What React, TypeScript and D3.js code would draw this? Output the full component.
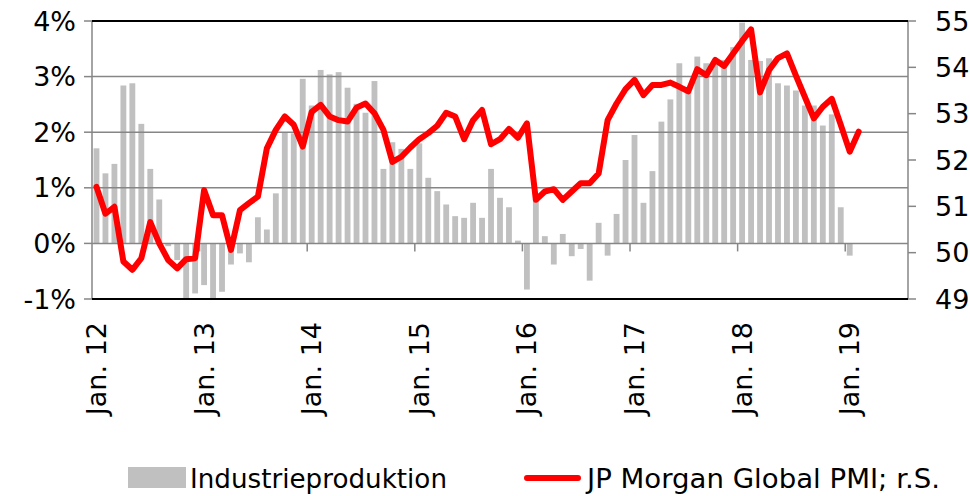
import React from "react";
import * as d3 from "d3";

const startMonth = new Date(2012, 0, 1);
const monthCount = 91; // Jan 2012 – Jul 2019 on the category axis

const yearTicks = ["Jan. 12", "Jan. 13", "Jan. 14", "Jan. 15", "Jan. 16", "Jan. 17", "Jan. 18", "Jan. 19"];
const leftTicks = [-1, 0, 1, 2, 3, 4];
const rightTicks = [49, 50, 51, 52, 53, 54, 55];

// Industrieproduktion (% y/y), Jan 2012 – Jan 2019
const industrie = [
  1.71, 1.26, 1.43, 2.84, 2.88, 2.15, 1.34, 0.79, -0.05, -0.3, -1.05, -0.9,
  -0.75, -1.05, -0.87, -0.38, -0.18, -0.34, 0.47, 0.25, 0.9, 1.99, 1.98, 2.96,
  2.48, 3.12, 3.04, 3.08, 2.8, 2.51, 2.35, 2.92, 1.34, 1.82, 1.7, 1.34,
  1.8, 1.18, 0.94, 0.7, 0.49, 0.46, 0.73, 0.46, 1.34, 0.82, 0.65, 0.05,
  -0.83, 0.8, 0.13, -0.38, 0.17, -0.23, -0.1, -0.67, 0.37, -0.22, 0.53, 1.5,
  1.95, 0.73, 1.3, 2.19, 2.59, 3.24, 2.8, 3.36, 3.24, 3.25, 3.3, 3.53,
  3.97, 3.3, 3.28, 3.33, 2.88, 2.84, 2.75, 2.48, 2.48, 2.12, 2.32, 0.65,
  -0.22,
];

// JP Morgan Global PMI, Jan 2012 – Feb 2019
const pmi = [
  51.42, 50.84, 50.99, 49.81, 49.63, 49.88, 50.66, 50.2, 49.84, 49.66, 49.86, 49.88,
  51.35, 50.81, 50.81, 50.06, 50.92, 51.07, 51.21, 52.25, 52.65, 52.94, 52.76, 52.29,
  53.04, 53.19, 52.94, 52.86, 52.83, 53.13, 53.22, 53.01, 52.65, 51.96, 52.07, 52.27,
  52.45, 52.58, 52.74, 53.02, 52.94, 52.45, 52.86, 53.08, 52.34, 52.45, 52.67, 52.48,
  52.79, 51.14, 51.32, 51.37, 51.14, 51.32, 51.5, 51.5, 51.71, 52.86, 53.22, 53.53,
  53.73, 53.4, 53.62, 53.62, 53.67, 53.58, 53.48, 53.96, 53.83, 54.16, 54.03, 54.3,
  54.57, 54.82, 53.46, 53.94, 54.2, 54.3, 53.82, 53.36, 52.9, 53.15, 53.32, 52.76,
  52.18, 52.61,
];

const legendLabels = ["Industrieproduktion", "JP Morgan Global PMI; r.S."];

const W = 970;
const H = 496;
const M = { left: 92, right: 908, top: 21, bottom: 299 };
const FONT = "'DejaVu Sans', Verdana, sans-serif";

export default function App() {
  const months = d3.timeMonth.range(startMonth, d3.timeMonth.offset(startMonth, monthCount));
  const x = d3
    .scaleBand<number>()
    .domain(d3.range(months.length))
    .range([M.left, M.right])
    .paddingInner(0.35)
    .paddingOuter(0.175);
  const step = x.step();
  const xStart = (i: number) => M.left + i * step;
  const xCenter = (i: number) => xStart(i) + step / 2;

  const yL = d3.scaleLinear().domain([-1, 4]).range([M.bottom, M.top]);
  const yR = d3.scaleLinear().domain([49, 55]).range([M.bottom, M.top]);

  const line = d3
    .line<number>()
    .x((_, i) => xCenter(i))
    .y((d) => yR(d));

  const janIdx = months.map((m, i) => (m.getMonth() === 0 ? i : -1)).filter((i) => i >= 0);

  const clampL = (v: number) => Math.max(-1, Math.min(4, v));

  return (
    <svg
      width={W}
      height={H}
      style={{ position: "absolute", left: 0, top: 0, background: "#fff" }}
      fontFamily={FONT}
    >
      {/* bars */}
      {industrie.map((v, i) => {
        const y0 = yL(0);
        const y1 = yL(clampL(v));
        return (
          <rect
            key={i}
            x={x(i)}
            width={x.bandwidth()}
            y={Math.min(y0, y1)}
            height={Math.abs(y1 - y0)}
            fill="#c0c0c0"
          />
        );
      })}
      {/* gridlines */}
      {[0, 1, 2, 3].map((t) => (
        <line key={t} x1={M.left} x2={M.right} y1={yL(t)} y2={yL(t)} stroke="#868686" strokeWidth={1.5} />
      ))}
      {/* x tick marks at January boundaries */}
      {janIdx.slice(1).map((i) => (
        <line key={i} x1={xStart(i)} x2={xStart(i)} y1={yL(0)} y2={yL(0) + 8} stroke="#868686" strokeWidth={1.5} />
      ))}
      {/* frame */}
      <line x1={M.left} x2={M.left} y1={M.top} y2={M.bottom} stroke="#868686" strokeWidth={1.5} />
      <line x1={M.right} x2={M.right} y1={M.top} y2={M.bottom} stroke="#868686" strokeWidth={1.5} />
      <line x1={M.left} x2={M.right} y1={M.top} y2={M.top} stroke="#000" strokeWidth={2} />
      <line x1={M.left} x2={M.right} y1={M.bottom} y2={M.bottom} stroke="#000" strokeWidth={2} />
      {/* left axis */}
      {leftTicks.map((t) => (
        <g key={t}>
          <line x1={M.left - 8} x2={M.left} y1={yL(t)} y2={yL(t)} stroke="#868686" strokeWidth={1.5} />
          <text x={76} y={yL(t)} textAnchor="end" dominantBaseline="central" fontSize={27} fill="#000">
            {t + "%"}
          </text>
        </g>
      ))}
      {/* right axis */}
      {rightTicks.map((t) => (
        <g key={t}>
          <line x1={M.right} x2={M.right + 8} y1={yR(t)} y2={yR(t)} stroke="#868686" strokeWidth={1.5} />
          <text x={935} y={yR(t)} textAnchor="start" dominantBaseline="central" fontSize={27} fill="#000">
            {t}
          </text>
        </g>
      ))}
      {/* x labels */}
      {janIdx.slice(0, yearTicks.length).map((i, k) => (
        <text
          key={i}
          transform={`translate(${xCenter(i)},322) rotate(-90)`}
          textAnchor="end"
          dominantBaseline="central"
          fontSize={27}
          fill="#000"
        >
          {yearTicks[k]}
        </text>
      ))}
      {/* PMI line */}
      <path d={line(pmi) || ""} fill="none" stroke="#ff0000" strokeWidth={6} strokeLinejoin="round" strokeLinecap="round" />
      {/* legend */}
      <rect x={128} y={467} width={58} height={21} fill="#c0c0c0" />
      <text x={190} y={488} fontSize={26} textLength={257} lengthAdjust="spacingAndGlyphs" fill="#000">
        {legendLabels[0]}
      </text>
      <line x1={527} x2={578} y1={478} y2={478} stroke="#ff0000" strokeWidth={6} strokeLinecap="round" />
      <text x={587} y={488} fontSize={26} textLength={353} lengthAdjust="spacingAndGlyphs" fill="#000">
        {legendLabels[1]}
      </text>
    </svg>
  );
}
